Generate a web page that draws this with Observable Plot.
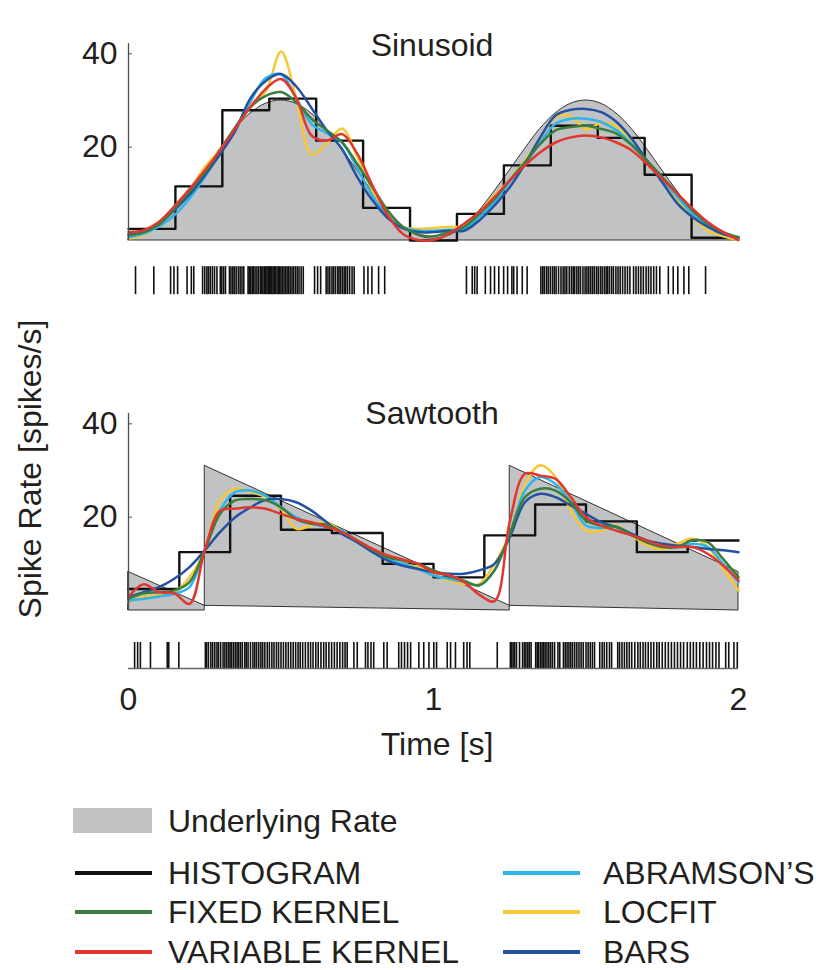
<!DOCTYPE html>
<html><head><meta charset="utf-8">
<script src="https://cdn.jsdelivr.net/npm/d3@7"></script>
<script src="https://cdn.jsdelivr.net/npm/@observablehq/plot@0.6"></script>
<style>
html,body{margin:0;padding:0;background:#fff;}
#root{position:relative;width:816px;height:970px;overflow:hidden;font-family:"Liberation Sans",Arial,Helvetica,sans-serif;color:#231f20;}
.abs{position:absolute;white-space:nowrap;font-size:32px;line-height:32px;}
.sw{position:absolute;height:4px;}
svg{position:absolute;left:0;}
</style></head><body><div id="root"></div>
<script>
// ---------- data ----------
const times = [0,0.05,0.1,0.15,0.2,0.25,0.3,0.35,0.4,0.45,0.5,0.55,0.6,0.65,0.7,0.75,0.8,0.85,0.9,0.95,1.0,
  1.05,1.1,1.15,1.2,1.25,1.3,1.35,1.4,1.45,1.5,1.55,1.6,1.65,1.7,1.75,1.8,1.85,1.9,1.95,2.0];

// Sinusoid panel
const sinRate = [0.4,1.0,3.0,6.3,10.5,15.0,19.6,23.9,27.2,29.3,30.0,29.3,27.2,23.9,19.6,15.0,10.5,6.3,3.0,1.0,0.4,
  1.0,3.0,6.3,10.5,15.0,19.6,23.9,27.2,29.3,30.0,29.3,27.2,23.9,19.6,15.0,10.5,6.3,3.0,1.0,0.4];
const sinHistEdges = [0,0.1538,0.3077,0.4615,0.6154,0.7692,0.9231,1.0769,1.2308,1.3846,1.5385,1.6923,1.8462,2.0];
const sinHist = [2.5,11.6,27.9,30.4,21.4,7.0,0,5.7,16.1,24.6,22.0,14.1,0.6];
const sinFixed = [1.1,1.8,3.5,6.8,10.5,14.6,19.3,24.3,28.6,31.0,31.8,29.6,26.1,23.6,21.1,16.4,11.4,6.4,2.9,1.3,0.9,
  1.8,2.9,5.7,8.9,12.9,16.8,20.7,23.6,24.3,24.6,23.9,22.9,20.4,17.1,13.6,10.0,6.4,3.6,1.8,0.7];
const sinVariable = [1.8,2.2,4.0,7.3,11.0,15.0,19.3,24.0,28.6,32.5,34.6,30.5,22.5,21.4,22.8,18.6,11.8,5.4,1.4,0.1,0.1,
  1.4,3.6,6.1,9.3,12.9,16.1,18.9,21.0,22.1,22.5,22.1,21.0,19.3,16.4,13.2,10.0,6.8,3.9,1.8,0.1];
const sinAbramson = [0.7,1.5,3.0,5.4,9.0,13.6,18.6,24.0,29.8,34.8,35.6,30.5,25.0,23.0,21.0,15.5,9.6,5.2,2.9,2.1,2.1,
  2.3,2.5,5.0,8.2,12.6,16.4,21.0,25.0,26.1,26.1,25.4,23.6,20.7,17.1,13.2,9.3,5.7,3.2,1.4,0.6];
const sinLocfit = [0.4,1.2,3.4,6.5,10.8,15.7,19.5,24.0,29.0,32.0,40.5,30.5,18.4,20.8,24.0,18.0,10.7,6.0,2.9,2.5,2.7,
  2.9,3.2,6.1,9.6,13.0,17.1,22.0,26.5,26.6,23.8,25.2,24.5,21.0,17.1,13.2,8.9,5.0,2.1,0.9,0.1];
const sinBars = [1.3,1.8,3.5,6.5,9.8,14.0,18.5,23.5,30.5,34.2,35.7,33.0,28.4,23.6,19.6,13.6,8.6,4.8,2.6,1.8,1.8,
  2.1,2.1,4.3,7.5,11.4,16.4,22.1,26.8,28.0,28.2,27.5,25.4,21.8,17.1,12.5,7.9,5.0,2.9,1.4,0.7];
const sinSpikes = [0.023,0.083,0.138,0.149,0.161,0.192,0.206,0.214,0.243,0.25,0.257,0.262,0.268,0.275,0.282,0.29,
  0.301,0.306,0.312,0.318,0.331,0.336,0.342,0.347,0.353,0.36,0.366,0.372,0.378,0.392,0.396,0.401,0.406,0.41,0.415,
  0.421,0.426,0.432,0.437,0.441,0.446,0.45,0.454,0.458,0.462,0.466,0.47,0.474,0.478,0.482,0.487,0.491,0.496,0.5,
  0.505,0.51,0.515,0.52,0.525,0.53,0.536,0.541,0.547,0.553,0.559,0.566,0.573,0.61,0.62,0.63,0.648,0.654,0.66,0.667,
  0.672,0.678,0.685,0.69,0.695,0.701,0.707,0.712,0.718,0.725,0.733,0.74,0.772,0.785,0.798,0.82,0.84,
  1.108,1.127,1.135,1.143,1.17,1.187,1.2,1.214,1.23,1.243,1.257,1.263,1.274,1.291,1.307,1.352,1.358,1.363,1.37,
  1.376,1.383,1.39,1.396,1.402,1.41,1.418,1.425,1.431,1.437,1.445,1.452,1.458,1.463,1.47,1.476,1.482,1.49,1.497,
  1.503,1.509,1.515,1.521,1.527,1.534,1.54,1.547,1.553,1.56,1.566,1.571,1.577,1.584,1.59,1.598,1.605,1.612,1.62,
  1.628,1.636,1.644,1.656,1.664,1.672,1.68,1.688,1.697,1.705,1.713,1.722,1.731,1.742,1.77,1.786,1.801,1.821,1.837,1.892];

// Sawtooth panel
const sawRateTimes = [0,0.25,0.25,1.25,1.25,2.0];
const sawRate = [8.25,1.0,30.0,1.0,30.0,8.25];
const sawHistEdges = [0,0.1667,0.3333,0.5,0.6667,0.8333,1.0,1.1667,1.3333,1.5,1.6667,1.8333,2.0];
const sawHist = [4.6,12.5,24.6,17.3,16.6,10.0,7.1,16.1,22.7,19.1,12.5,15.0];
const sawFixed = [2.5,3.7,3.9,4.3,6.1,12.9,20.7,23.6,23.9,23.6,22.1,19.6,18.6,18.4,16.8,15.0,13.0,11.4,10.7,10.0,8.6,
  7.4,6.4,5.4,8.6,16.4,24.3,26.1,25.7,23.2,19.3,18.2,17.9,16.1,14.6,13.6,13.6,15.1,14.6,11.0,7.1];
const sawVariable = [2.9,5.6,3.9,3.7,1.4,12.9,21.4,21.8,22.1,21.8,20.7,19.6,18.9,17.9,16.8,15.0,13.2,11.8,10.9,10.0,8.2,
  7.6,6.1,3.4,2.0,19.0,29.3,28.9,28.2,24.3,20.0,18.2,17.1,16.1,15.0,13.9,13.6,13.6,12.1,9.6,6.4];
const sawAbramson = [2.1,2.5,3.0,3.6,5.0,12.9,21.4,25.4,25.7,24.6,22.1,20.0,18.6,17.9,17.0,15.0,12.9,11.0,10.0,8.9,7.5,
  6.8,6.1,5.4,8.6,16.4,25.7,28.6,27.1,23.2,18.2,17.7,17.9,16.4,14.6,13.9,13.9,14.3,13.6,10.0,6.1];
const sawLocfit = [1.8,2.9,3.2,3.9,7.1,12.9,23.6,26.1,25.4,24.3,21.8,17.5,18.2,18.9,16.8,15.0,12.9,11.0,10.0,9.3,7.9,
  6.4,5.7,5.7,10.0,16.4,27.1,31.1,28.6,21.4,17.1,17.1,18.2,16.1,13.9,13.2,14.3,15.4,13.6,8.9,4.3];
const sawBars = [2.9,3.9,5.0,6.8,9.3,12.9,16.8,20.0,22.1,23.7,23.9,23.2,21.4,18.9,16.4,14.6,12.5,10.7,9.6,8.9,8.2,
  7.9,7.9,8.6,10.0,15.7,23.2,25.0,24.3,22.5,20.7,18.9,17.9,16.4,15.0,14.3,13.9,13.6,13.2,12.9,12.5];
const sawSpikes = [0.020,0.030,0.039,0.072,0.127,0.132,0.165,
  0.252,0.256,0.262,0.27,0.276,0.283,0.29,0.295,0.302,0.31,0.316,0.322,0.328,0.333,0.338,0.344,0.35,0.356,0.361,
  0.367,0.373,0.381,0.386,0.392,0.4,0.408,0.414,0.42,0.427,0.434,0.44,0.447,0.455,0.462,0.47,0.477,0.485,0.492,0.5,
  0.508,0.516,0.524,0.532,0.54,0.548,0.556,0.563,0.571,0.58,0.589,0.597,0.605,0.614,0.622,0.631,0.64,0.648,0.657,
  0.666,0.675,0.684,0.693,0.702,0.71,0.717,0.739,0.75,0.777,0.785,0.795,0.804,0.837,0.848,0.886,0.895,0.905,0.915,
  0.925,0.952,0.968,0.985,1.001,1.01,1.045,1.056,1.072,1.099,1.11,1.119,1.209,
  1.252,1.256,1.261,1.266,1.272,1.282,1.292,1.298,1.303,1.309,1.314,1.32,1.335,1.34,1.345,1.351,1.356,1.361,1.366,
  1.372,1.378,1.384,1.39,1.397,1.408,1.414,1.426,1.432,1.438,1.444,1.45,1.456,1.463,1.47,1.477,1.484,1.491,1.5,
  1.507,1.514,1.521,1.528,1.545,1.553,1.56,1.568,1.577,1.584,1.604,1.61,1.618,1.626,1.634,1.642,1.65,1.66,1.67,
  1.678,1.687,1.695,1.704,1.713,1.722,1.732,1.74,1.75,1.76,1.77,1.78,1.79,1.8,1.81,1.82,1.832,1.842,1.852,1.862,
  1.873,1.884,1.895,1.905,1.915,1.926,1.936,1.958,1.968,1.985,1.996];

const xTicks = [0,1,2];
const yTicks = [20,40];
const legendLabels = ["HISTOGRAM","FIXED KERNEL","VARIABLE KERNEL","ABRAMSON\u2019S","LOCFIT","BARS"];

(function () {
// ---------- styling ----------
const COL = {hist:"#111111", fixed:"#3b7d3d", variable:"#e2372f", abramson:"#2db4e9",
             locfit:"#f6c834", bars:"#2352a1", rate:"#c1c2c4", axis:"#4d4d4f"};
const FONT = "'Liberation Sans', Arial, Helvetica, sans-serif";

const rows = (xs, vs) => xs.map((t, i) => ({t, v: vs[i]}));
const histRows = (edges, h) => h.map((v, i) => ({t: edges[i], v})).concat([{t: edges[edges.length - 1], v: h[h.length - 1]}]);

function panel({rate, hist, curves, spikes, raster, height, bottomAxis}) {
  const marks = [
    Plot.areaY(rate.data, {x: "t", y: "v", curve: rate.curve, fill: COL.rate, stroke: "#231f20", strokeWidth: 0.9}),
    Plot.lineY(hist, {x: "t", y: "v", curve: "step-after", stroke: COL.hist, strokeWidth: 2.4}),
    ...curves.map(c => Plot.lineY(c.data, {x: "t", y: "v", curve: "catmull-rom", stroke: c.color, strokeWidth: 2.5})),
    Plot.ruleX(spikes, {x: d => d, y1: raster.top, y2: raster.bottom, stroke: "#111", strokeWidth: 1.6}),
    Plot.ruleX([0], {y1: 0, y2: 42.2, stroke: COL.axis, strokeWidth: 1.3}),
    Plot.axisY({ticks: yTicks, tickSize: -4, tickPadding: 15, fontSize: 32, stroke: COL.axis, label: null, tickFormat: d3.format("d")})
  ];
  if (bottomAxis) {
    marks.push(Plot.ruleY([raster.bottom], {x1: 0, x2: 2, stroke: "#666", strokeWidth: 1.5}));
    marks.push(Plot.axisX({ticks: xTicks, tickSize: 0, tickPadding: 5, fontSize: 32, label: null, tickFormat: d3.format("d")}));
  }
  return Plot.plot({
    width: 816, height,
    marginLeft: 128, marginRight: 78, marginTop: 20, marginBottom: bottomAxis ? 88 : 10,
    x: {domain: [0, 2], axis: bottomAxis ? undefined : null, label: null},
    y: {domain: [0, 40], range: [240, 53.333], label: null},
    style: {fontFamily: FONT, fontSize: "32px", color: "#231f20", background: "none", overflow: "visible"},
    marks
  });
}

const curveDefs = (f, v, a, l, b) => [
  {color: COL.locfit, data: rows(times, l)},
  {color: COL.abramson, data: rows(times, a)},
  {color: COL.bars, data: rows(times, b)},
  {color: COL.fixed, data: rows(times, f)},
  {color: COL.variable, data: rows(times, v)}
];

const root = document.getElementById("root");

const topPanel = panel({
  rate: {data: rows(times, sinRate), curve: "catmull-rom"},
  hist: histRows(sinHistEdges, sinHist),
  curves: curveDefs(sinFixed, sinVariable, sinAbramson, sinLocfit, sinBars),
  spikes: sinSpikes, raster: {top: -5.6, bottom: -11.6},
  height: 310, bottomAxis: false
});
topPanel.style.top = "0px";
root.appendChild(topPanel);

const botPanel = panel({
  rate: {data: rows(sawRateTimes, sawRate), curve: "linear"},
  hist: histRows(sawHistEdges, sawHist),
  curves: curveDefs(sawFixed, sawVariable, sawAbramson, sawLocfit, sawBars),
  spikes: sawSpikes, raster: {top: -6.86, bottom: -12.45},
  height: 400, bottomAxis: true
});
botPanel.style.top = "370px";
root.appendChild(botPanel);

// ---------- text ----------
function txt(s, css) {
  const d = document.createElement("div");
  d.className = "abs";
  d.textContent = s;
  Object.assign(d.style, css);
  root.appendChild(d);
  return d;
}
txt("Sinusoid", {left: "232px", width: "400px", textAlign: "center", top: "29px"});
txt("Sawtooth", {left: "232px", width: "400px", textAlign: "center", top: "397px"});
txt("Time [s]", {left: "237px", width: "400px", textAlign: "center", top: "728px"});
txt("Spike Rate [spikes/s]", {left: "-170px", width: "400px", textAlign: "center", top: "453px", transform: "rotate(-90deg)"});

// ---------- legend ----------
const sw = document.createElement("div");
Object.assign(sw.style, {position: "absolute", left: "73px", top: "808px", width: "79px", height: "25px", background: COL.rate});
root.appendChild(sw);
txt("Underlying Rate", {left: "168px", top: "805px"});
const legendColors = [COL.hist, COL.fixed, COL.variable, COL.abramson, COL.locfit, COL.bars];
const rowsY = [873, 912, 952];
legendLabels.forEach((lab, i) => {
  const col = i < 3 ? 0 : 1, r = i % 3;
  const lx = col ? 503 : 75, tx = col ? 603 : 168;
  const line = document.createElement("div");
  line.className = "sw";
  Object.assign(line.style, {left: lx + "px", top: (rowsY[r] - 2) + "px", width: "77px", background: legendColors[i]});
  root.appendChild(line);
  txt(lab, {left: tx + "px", top: (rowsY[r] - 16) + "px"});
});
})();
</script></body></html>
